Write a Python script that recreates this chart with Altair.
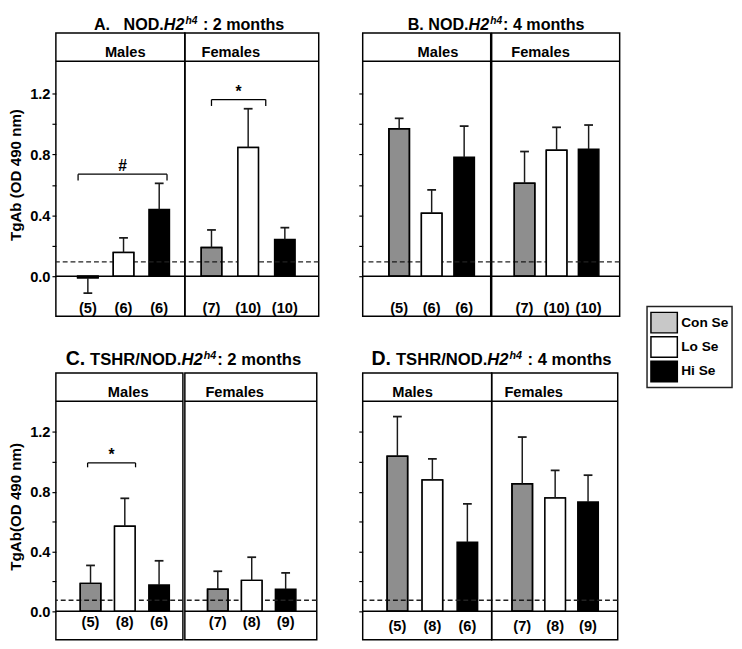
import altair as alt
import pandas as pd

FONT = "Liberation Sans"

# ---------------- data ----------------
groups = ["Con Se", "Lo Se", "Hi Se"]

a_m_mean = [-0.01, 0.156, 0.438]
a_m_top = [-0.111, 0.252, 0.61]
a_m_n = [5, 6, 6]
a_f_mean = [0.188, 0.845, 0.242]
a_f_top = [0.304, 1.10, 0.319]
a_f_n = [7, 10, 10]

b_m_mean = [0.969, 0.413, 0.781]
b_m_top = [1.037, 0.567, 0.986]
b_m_n = [5, 6, 6]
b_f_mean = [0.61, 0.828, 0.834]
b_f_top = [0.819, 0.978, 0.993]
b_f_n = [7, 10, 10]

c_m_mean = [0.187, 0.569, 0.176]
c_m_top = [0.307, 0.756, 0.338]
c_m_n = [5, 8, 6]
c_f_mean = [0.148, 0.207, 0.148]
c_f_top = [0.268, 0.362, 0.257]
c_f_n = [7, 8, 9]

d_m_mean = [1.037, 0.878, 0.462]
d_m_top = [1.303, 1.02, 0.719]
d_m_n = [5, 8, 6]
d_f_mean = [0.854, 0.758, 0.732]
d_f_top = [1.166, 0.943, 0.911]
d_f_n = [7, 8, 9]

panel_ids = ["A", "B", "C", "D"]
cutoffs = [0.094, 0.094, 0.074, 0.074]

br_panel = ["A", "A", "C"]
br_sex = ["Males", "Females", "Males"]
br_from = ["Con Se", "Con Se", "Con Se"]
br_to = ["Hi Se", "Lo Se", "Lo Se"]
br_level = [0.67, 1.16, 0.993]
br_label = ["#", "*", "*"]

y_ticks = [0, 0.2, 0.4, 0.6, 0.8, 1.0, 1.2]

# ---------------- layout / style ----------------
LAY = {
    "A": dict(h=290, dom=(-0.263, 1.598), head=1.412, headtxt=1.475, ny=-0.21,
              Males=dict(w=132, c0=30, step=39.5, tx=71),
              Females=dict(w=137, c0=24, step=40.5, tx=47)),
    "B": dict(h=290, dom=(-0.263, 1.598), head=1.412, headtxt=1.475, ny=-0.21,
              Males=dict(w=131, c0=35, step=36, tx=77),
              Females=dict(w=131, c0=31, step=35.5, tx=50)),
    "C": dict(h=273, dom=(-0.19, 1.595), head=1.405, headtxt=1.47, ny=-0.072,
              Males=dict(w=130, c0=33, step=38, tx=74),
              Females=dict(w=135, c0=31, step=37.5, tx=51)),
    "D": dict(h=273, dom=(-0.19, 1.595), head=1.405, headtxt=1.47, ny=-0.10,
              Males=dict(w=132, c0=33, step=38.75, tx=51),
              Females=dict(w=129, c0=28.5, step=36.5, tx=43)),
}
BR_STYLE = [dict(lo=-10, ro=8, tick=6.5), dict(lo=0, ro=18, tick=6.5), dict(lo=-3, ro=11, tick=4.5)]

SP = 0.278
TITLES = {
    "A": dict(x0=39, yb=-3, parts=[("A.", 16.5, "normal", 0), ("gap", 16.5 * SP * 3), ("NOD.", 16.5, "normal", 0),
                                   ("H2", 16.5, "italic", 0), ("h4", 10.5, "italic", -6), ("gap", 16.5 * SP),
                                   (": 2 months", 16.5, "normal", 0)]),
    "B": dict(x0=46, yb=-3, parts=[("B.", 16.5, "normal", 0), ("gap", 16.5 * SP), ("NOD.", 16.5, "normal", 0),
                                   ("H2", 16.5, "italic", 0), ("h4", 10.5, "italic", -6),
                                   (": 4 months", 16.5, "normal", 0)]),
    "C": dict(x0=10, yb=-8, parts=[("C.", 20, "normal", 0), ("gap", 5), ("TSHR/NOD.", 17, "normal", 0),
                                   ("H2", 17, "italic", 0), ("h4", 11, "italic", -6),
                                   (": 2 months", 17, "normal", 0)]),
    "D": dict(x0=9, yb=-8, parts=[("D.", 20, "normal", 0), ("gap", 5), ("TSHR/NOD.", 17, "normal", 0),
                                  ("H2", 17, "italic", 0), ("h4", 11, "italic", -6), ("gap", 17 * SP),
                                  (": 4 months", 17, "normal", 0)]),
}
AW = {' ': 278, '.': 278, ':': 333, '/': 278, '(': 333, ')': 333,
      'A': 722, 'B': 722, 'C': 722, 'D': 722, 'H': 722, 'N': 722, 'O': 778, 'R': 722, 'S': 667, 'T': 611,
      'h': 611, 'm': 889, 'n': 611, 'o': 611, 's': 556, 't': 333}
for d in "0123456789":
    AW[d] = 556


def tw(s, size):
    return sum(AW.get(c, 600) for c in s) / 1000.0 * size


ONE = pd.DataFrame({"k": [0]})

leg_scale = alt.Scale(domain=groups, range=["#c8c8c8", "white", "black"])


def title_layers(spec):
    x = spec["x0"]
    out = []
    for part in spec["parts"]:
        if part[0] == "gap":
            x += part[1]
            continue
        txt, size, style, dy = part
        out.append(alt.Chart(ONE).mark_text(align="left", baseline="alphabetic", font=FONT, fontSize=size,
                                            fontWeight="bold", fontStyle=style, color="black")
                   .encode(x=alt.value(x), y=alt.value(spec["yb"] + dy), text=alt.value(txt)))
        x += tw(txt, size) + (1 if style == "italic" else 0)
    return out


def sub(panel, sex, mean, top, n):
    L = LAY[panel]
    S = L[sex]
    w, step, c0 = S["w"], S["step"], S["c0"]
    xa = -c0 / step
    xs = alt.Scale(domain=[xa, xa + w / step], nice=False, zero=False)
    ys = alt.Scale(domain=list(L["dom"]), nice=False, zero=False)
    cut = cutoffs[panel_ids.index(panel)]

    if sex == "Males" and panel in ("A", "C"):
        ttl = "TgAb (OD 490 nm)" if panel == "A" else "TgAb(OD 490 nm)"
        ax = alt.Axis(values=y_ticks,
                      labelExpr="round(datum.value*10) % 4 === 0 ? format(datum.value, '.1f') : ''",
                      tickSize=4, tickWidth=1.2, tickColor="black", domain=False, grid=False,
                      labelFont=FONT, labelFontSize=15, labelFontWeight="bold", labelColor="black",
                      labelPadding=2, labelOverlap=False, labelFlush=False,
                      titleFont=FONT, titleFontSize=15.5, titleFontWeight="bold", titleColor="black",
                      titlePadding=6)
    elif sex == "Males":
        ttl = None
        ax = alt.Axis(values=y_ticks, labels=False, tickSize=4, tickWidth=1.2, tickColor="black",
                      domain=False, grid=False)
    else:
        ttl = None
        ax = None

    def X(f="idx"):
        return alt.X(f + ":Q", scale=xs, axis=None)

    def Y(f):
        return alt.Y(f + ":Q", scale=ys, axis=ax, title=ttl)

    def YD(v):
        return alt.YDatum(v, scale=ys, axis=ax, title=ttl)

    df = pd.DataFrame({"group": groups, "idx": [groups.index(g) for g in groups],
                       "mean": mean, "top": top, "n": ["(%d)" % k for k in n]})
    base = alt.Chart(df)

    layers = []
    layers.append(base.mark_bar(size=21, stroke="black", strokeWidth=1.5).encode(
        x=X(), y=Y("mean"), y2=alt.Y2Datum(0.0),
        color=alt.Color("group:N", scale=leg_scale, sort=groups, legend=None)))
    # dashed cut-off line: visible across the grey bars, hidden by the white bars
    layers.append(alt.Chart(ONE).mark_rule(color="#222", strokeWidth=1.3, strokeDash=[5, 3]).encode(y=YD(cut)))
    layers.append(base.transform_filter(alt.datum.group == "Lo Se")
                  .mark_bar(size=21, stroke="black", strokeWidth=1.5, fill="white")
                  .encode(x=X(), y=Y("mean"), y2=alt.Y2Datum(0.0)))
    layers.append(base.transform_filter(alt.datum.group == "Con Se")
                  .mark_bar(size=21, stroke="black", strokeWidth=1.5, fill="black", fillOpacity=0.29)
                  .encode(x=X(), y=Y("mean"), y2=alt.Y2Datum(0.0)))
    layers.append(alt.Chart(ONE).mark_rule(color="black", strokeWidth=1.5).encode(y=YD(0.0)))
    layers.append(alt.Chart(ONE).mark_rule(color="black", strokeWidth=1.5).encode(y=YD(L["head"])))
    layers.append(base.mark_rule(color="#1a1a1a", strokeWidth=1.5).encode(
        x=X(), y=Y("mean"), y2=alt.Y2("top:Q")))
    layers.append(base.mark_rule(color="#1a1a1a", strokeWidth=1.8, xOffset=-4.5, x2Offset=4.5).encode(
        x=X(), x2=alt.X2("idx:Q"), y=Y("top")))
    layers.append(base.mark_text(font=FONT, fontSize=15, fontWeight="bold", color="black", baseline="middle").encode(
        x=X(), y=YD(L["ny"]), text="n:N"))
    layers.append(alt.Chart(ONE).mark_text(font=FONT, fontSize=15, fontWeight="bold", color="black",
                                           baseline="middle", align="center").encode(
        x=alt.value(S["tx"]), y=YD(L["headtxt"]), text=alt.value(sex)))

    for i in range(len(br_panel)):
        if br_panel[i] != panel or br_sex[i] != sex:
            continue
        st = BR_STYLE[i]
        i0 = groups.index(br_from[i])
        i1 = groups.index(br_to[i])
        bdf = pd.DataFrame({"i0": [i0], "i1": [i1], "lvl": [br_level[i]], "lab": [br_label[i]],
                            "mid": [(i0 + i1) / 2.0]})
        bb = alt.Chart(bdf)
        layers.append(bb.mark_rule(color="black", strokeWidth=1.3, xOffset=st["lo"], x2Offset=st["ro"]).encode(
            x=X("i0"), x2=alt.X2("i1:Q"), y=Y("lvl")))
        layers.append(bb.mark_rule(color="black", strokeWidth=1.3, xOffset=st["lo"], y2Offset=st["tick"]).encode(
            x=X("i0"), y=Y("lvl"), y2=alt.Y2("lvl:Q")))
        layers.append(bb.mark_rule(color="black", strokeWidth=1.3, xOffset=st["ro"], y2Offset=st["tick"]).encode(
            x=X("i1"), y=Y("lvl"), y2=alt.Y2("lvl:Q")))
        layers.append(bb.mark_text(font=FONT, fontSize=16, fontWeight="bold", color="black",
                                   baseline="alphabetic", dy=-3, dx=(st["lo"] + st["ro"]) / 2.0).encode(
            x=X("mid"), y=Y("lvl"), text="lab:N"))

    if sex == "Males":
        layers.extend(title_layers(TITLES[panel]))

    return alt.layer(*layers).properties(width=w, height=L["h"])


def spacer(w, h):
    return (alt.Chart(ONE).mark_point(opacity=0, size=1)
            .encode(x=alt.value(0), y=alt.value(h / 2))
            .properties(width=w, height=h, view=alt.ViewBackground(stroke="transparent")))


def legend_cell(h):
    # legend box sits below the row-1 panels' top, straddling into the gap between rows
    ldf = pd.DataFrame({"group": groups})
    lys = alt.Scale(domain=groups, range=[286, 357], paddingInner=0.16, paddingOuter=0)
    frame = alt.Chart(ONE).mark_rect(fill="white", stroke="#222", strokeWidth=1.5).encode(
        x=alt.value(0), x2=alt.value(87), y=alt.value(280), y2=alt.value(363))
    sw = alt.Chart(ldf).mark_bar(stroke="black", strokeWidth=1.5).encode(
        x=alt.value(4), x2=alt.value(31),
        y=alt.Y("group:N", sort=groups, scale=lys, axis=None),
        color=alt.Color("group:N", scale=leg_scale, sort=groups, legend=None))
    lab = alt.Chart(ldf).mark_text(align="left", baseline="middle", font=FONT, fontSize=14,
                                   fontWeight="bold", color="black").encode(
        x=alt.value(35), y=alt.Y("group:N", sort=groups, scale=lys, axis=None), text="group:N")
    return alt.layer(frame, sw, lab).properties(width=87, height=h, view=alt.ViewBackground(stroke="transparent"))


cells = [
    sub("A", "Males", a_m_mean, a_m_top, a_m_n), sub("A", "Females", a_f_mean, a_f_top, a_f_n),
    spacer(41, 290),
    sub("B", "Males", b_m_mean, b_m_top, b_m_n), sub("B", "Females", b_f_mean, b_f_top, b_f_n),
    spacer(28, 290), legend_cell(290),
    sub("C", "Males", c_m_mean, c_m_top, c_m_n), sub("C", "Females", c_f_mean, c_f_top, c_f_n),
    spacer(45, 273),
    sub("D", "Males", d_m_mean, d_m_top, d_m_n), sub("D", "Females", d_f_mean, d_f_top, d_f_n),
    spacer(1, 273), spacer(1, 273),
]

chart = (alt.concat(*cells, columns=7, spacing={"row": 58, "column": 0}, bounds="flush", align="none")
         .properties(padding={"left": 0, "top": 0, "right": 0, "bottom": 0}, background="white")
         .configure_view(stroke="black", strokeWidth=1.5))

chart.save("out.html", embed_options={"renderer": "svg", "actions": False})
